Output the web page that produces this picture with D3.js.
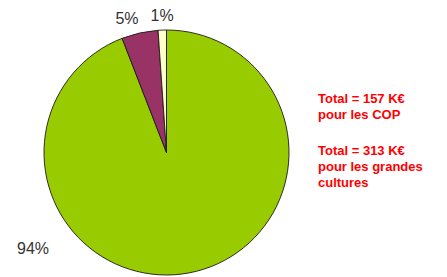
<!DOCTYPE html>
<html>
<head>
<meta charset="utf-8">
<script src="https://cdn.jsdelivr.net/npm/d3@7"></script>
<style>
  body { margin: 0; background: #fff; }
  svg { display: block; }
</style>
</head>
<body>
<script>
    // Data
    const categories = ["Grandes cultures", "COP", "Autres"];
    const values = [94.1, 4.8, 1.1];
    const colors = ["#99cc00", "#993366", "#ffffcc"];
    const notes = [
      ["Total = 157 K€", "pour les COP"],
      ["Total = 313 K€", "pour les grandes", "cultures"]
    ];

    const width = 447, height = 277;
    const cx = 166.5, cy = 152.5, radius = 122.5;

    const svg = d3.select("body")
      .append("svg")
      .attr("width", width)
      .attr("height", height);

    const data = categories.map((c, i) => ({ name: c, value: values[i], color: colors[i] }));
    const total = d3.sum(values);

    // clockwise from 12 o'clock, no sorting
    const pie = d3.pie().sort(null).value(d => d.value);
    const arcs = pie(data);

    const arc = d3.arc().innerRadius(0).outerRadius(radius);

    const g = svg.append("g")
      .attr("transform", `translate(${cx},${cy})`);

    g.selectAll("path")
      .data(arcs)
      .enter().append("path")
      .attr("d", arc)
      .attr("fill", d => d.data.color)
      .attr("stroke", "#1a1a1a")
      .attr("stroke-width", 0.9)
      .attr("stroke-linejoin", "round");

    // percent labels, Excel "best fit" style:
    // small slices get a label whose corner touches a point just outside the rim,
    // the big one is pushed out to the lower left
    function labelAttrs(d) {
      const big = d.value / total > 0.5;
      if (big) {
        const a = 234.5 * Math.PI / 180, r = 164;
        return { x: r * Math.sin(a), y: -r * Math.cos(a) + 6, anchor: "middle" };
      }
      const a = (d.startAngle + d.endAngle) / 2, r = radius + 5.5;
      const s = Math.sin(a);
      return {
        x: r * s,
        y: -r * Math.cos(a) - 3.5,
        anchor: Math.abs(s) < 0.1 ? "middle" : (s < 0 ? "end" : "start")
      };
    }

    g.selectAll(".pct")
      .data(arcs)
      .enter().append("text")
      .attr("class", "pct")
      .each(function(d) {
        const l = labelAttrs(d);
        d3.select(this)
          .attr("x", l.x)
          .attr("y", l.y)
          .attr("text-anchor", l.anchor);
      })
      .attr("font-family", "Liberation Sans, Arial, sans-serif")
      .attr("font-size", 16)
      .attr("fill", "#333")
      .text(d => Math.round(d.value / total * 100) + "%");

    // red notes on the right
    const note = svg.append("text")
      .attr("font-family", "Liberation Sans, Arial, sans-serif")
      .attr("font-size", 13)
      .attr("font-weight", "bold")
      .attr("fill", "#ff0000");

    let y = 103;
    notes.forEach(block => {
      block.forEach(line => {
        note.append("tspan")
          .attr("x", 318)
          .attr("y", y)
          .text(line);
        y += 16;
      });
      y += 20;
    });
</script>
</body>
</html>
